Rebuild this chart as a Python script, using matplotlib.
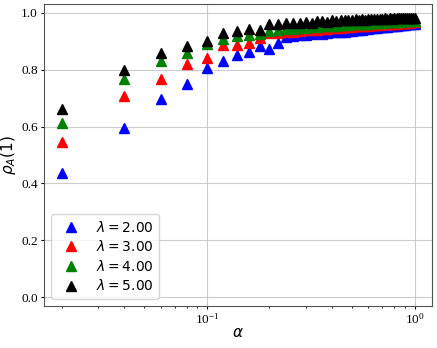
import numpy as np
import matplotlib
matplotlib.use("Agg")
import matplotlib.pyplot as plt

plt.rcParams['font.family'] = ['Liberation Serif', 'DejaVu Serif']
plt.rcParams['mathtext.fontset'] = 'dejavusans'

alpha = [round(0.02 * i, 2) for i in range(1, 51)]

rho_l2 = [0.438, 0.594, 0.697, 0.750, 0.807, 0.830, 0.852, 0.862, 0.884, 0.871,
          0.894, 0.915, 0.919, 0.921, 0.922, 0.925, 0.927, 0.926, 0.930, 0.931,
          0.932, 0.934, 0.933, 0.936, 0.937, 0.939, 0.940, 0.941, 0.942, 0.944,
          0.945, 0.946, 0.948, 0.949, 0.950, 0.951, 0.951, 0.953, 0.953, 0.954,
          0.955, 0.956, 0.957, 0.957, 0.958, 0.959, 0.960, 0.960, 0.961, 0.962]
rho_l3 = [0.546, 0.706, 0.766, 0.821, 0.842, 0.886, 0.887, 0.892, 0.912, 0.929,
          0.927, 0.931, 0.934, 0.936, 0.938, 0.940, 0.941, 0.943, 0.944, 0.946,
          0.947, 0.948, 0.949, 0.950, 0.951, 0.952, 0.953, 0.954, 0.955, 0.955,
          0.956, 0.957, 0.958, 0.958, 0.959, 0.960, 0.960, 0.961, 0.961, 0.962,
          0.962, 0.963, 0.963, 0.964, 0.964, 0.965, 0.965, 0.966, 0.966, 0.967]
rho_l4 = [0.613, 0.768, 0.830, 0.860, 0.889, 0.909, 0.917, 0.922, 0.926, 0.937,
          0.938, 0.942, 0.944, 0.946, 0.948, 0.949, 0.951, 0.952, 0.953, 0.954,
          0.955, 0.956, 0.957, 0.958, 0.959, 0.960, 0.960, 0.961, 0.962, 0.962,
          0.963, 0.964, 0.964, 0.965, 0.965, 0.966, 0.966, 0.967, 0.967, 0.968,
          0.968, 0.969, 0.969, 0.970, 0.970, 0.970, 0.971, 0.971, 0.972, 0.972]
rho_l5 = [0.661, 0.797, 0.860, 0.882, 0.899, 0.930, 0.937, 0.944, 0.939, 0.959,
          0.959, 0.964, 0.963, 0.965, 0.966, 0.965, 0.972, 0.971, 0.969, 0.974,
          0.972, 0.975, 0.973, 0.976, 0.974, 0.977, 0.975, 0.977, 0.976, 0.978,
          0.977, 0.979, 0.977, 0.979, 0.978, 0.980, 0.979, 0.980, 0.979, 0.981,
          0.980, 0.981, 0.980, 0.982, 0.981, 0.982, 0.981, 0.983, 0.982, 0.983]

series = [
    (rho_l2, 'blue', r'$\lambda = 2.00$'),
    (rho_l3, 'red', r'$\lambda = 3.00$'),
    (rho_l4, 'green', r'$\lambda = 4.00$'),
    (rho_l5, 'black', r'$\lambda = 5.00$'),
]

fig = plt.figure(figsize=(4.37, 3.48), dpi=100)
ax = fig.add_axes([0.101, 0.121, 0.888, 0.867])
for vals, col, lab in series:
    ax.plot(alpha, vals, linestyle='none', marker='^', markersize=6.5,
            color=col, label=lab)

ax.set_xscale('log')
ax.set_ylim(-0.03, 1.03)
ax.set_yticks([0.0, 0.2, 0.4, 0.6, 0.8, 1.0])
ax.grid(True, which='major', color='#cccccc', linewidth=0.8)
ax.tick_params(which='major', labelsize=9.5, length=2.5, pad=2)
ax.tick_params(which='minor', length=1.5)
for spine in ax.spines.values():
    spine.set_color('#555555')
ax.set_xlabel(r'$\alpha$', fontsize=11, labelpad=0)
ax.set_ylabel(r'$\rho_A(1)$', fontsize=11, labelpad=2)
ax.legend(loc='lower left', prop={'family': 'DejaVu Sans', 'size': 10},
          labelspacing=0.33)

fig.savefig('out.png', dpi=100)
